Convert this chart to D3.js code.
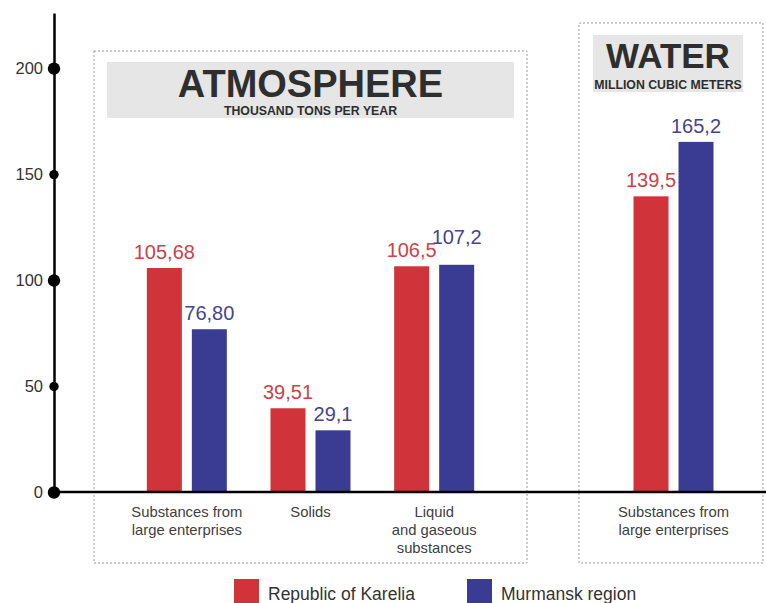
<!DOCTYPE html>
<html>
<head>
<meta charset="utf-8">
<script src="https://cdn.jsdelivr.net/npm/d3@7"></script>
<style>
  body { margin: 0; background: #fff; }
  svg { display: block; }
  text { font-family: "Liberation Sans", Arial, Helvetica, sans-serif; }
</style>
</head>
<body>
<svg id="chart" width="766" height="603"></svg>
<script>
// ---- data ----
const seriesNames = ["Republic of Karelia", "Murmansk region"];
const seriesKeys = ["karelia", "murmansk"];

const atmoCategories = [
  ["Substances from", "large enterprises"],
  ["Solids"],
  ["Liquid", "and gaseous", "substances"]
];
const atmoKarelia = [105.68, 39.51, 106.5];
const atmoMurmansk = [76.80, 29.1, 107.2];
const atmoKareliaLabels = ["105,68", "39,51", "106,5"];
const atmoMurmanskLabels = ["76,80", "29,1", "107,2"];

const waterCategories = [
  ["Substances from", "large enterprises"]
];
const waterKarelia = [139.5];
const waterMurmansk = [165.2];
const waterKareliaLabels = ["139,5"];
const waterMurmanskLabels = ["165,2"];

const yTicks = [0, 50, 100, 150, 200];
const yMajorTicks = [0, 100, 200];

// ---- styling ----
const colors = { karelia: "#d0333a", murmansk: "#3a3c94" };
const labelColors = { karelia: "#c8434b", murmansk: "#44458e" };
const textDark = "#333333";

const svg = d3.select("#chart");
const W = 766;

const y = d3.scaleLinear().domain([0, 226]).range([492, 13]);

// panels: frame, title plate and the horizontal span of the categories
const panels = [
  {
    title: "ATMOSPHERE", subtitle: "THOUSAND TONS PER YEAR",
    categories: atmoCategories,
    values: { karelia: atmoKarelia, murmansk: atmoMurmansk },
    labels: { karelia: atmoKareliaLabels, murmansk: atmoMurmanskLabels },
    frame: { x: 94, y: 51, w: 433, h: 512 },
    plate: { x: 107, y: 62, w: 407, h: 56 },
    titleSize: 38, titleBase: 97, subBase: 115,
    span: [125, 496]
  },
  {
    title: "WATER", subtitle: "MILLION CUBIC METERS",
    categories: waterCategories,
    values: { karelia: waterKarelia, murmansk: waterMurmansk },
    labels: { karelia: waterKareliaLabels, murmansk: waterMurmanskLabels },
    frame: { x: 579, y: 23, w: 184, h: 540 },
    plate: { x: 593, y: 35, w: 150, h: 57 },
    titleSize: 35, titleBase: 68, subBase: 89,
    span: [612, 735]
  }
];

// inner scale places the two series side by side inside a category
const inner = d3.scaleBand().domain(seriesKeys).range([-40, 40]).paddingInner(0.222);

panels.forEach(p => {
  const g = svg.append("g");

  // dashed frame
  g.append("rect")
    .attr("x", p.frame.x).attr("y", p.frame.y)
    .attr("width", p.frame.w).attr("height", p.frame.h)
    .attr("fill", "none").attr("stroke", "#9a9a9a")
    .attr("stroke-width", 1).attr("stroke-dasharray", "2,2");

  // title plate
  g.append("rect")
    .attr("x", p.plate.x).attr("y", p.plate.y)
    .attr("width", p.plate.w).attr("height", p.plate.h)
    .attr("fill", "#e6e6e6");
  const cx = p.plate.x + p.plate.w / 2;
  g.append("text")
    .attr("x", cx).attr("y", p.titleBase)
    .attr("text-anchor", "middle")
    .attr("font-size", p.titleSize).attr("font-weight", "bold")
    .attr("fill", "#2e2e2e")
    .text(p.title);
  g.append("text")
    .attr("x", cx).attr("y", p.subBase)
    .attr("text-anchor", "middle")
    .attr("font-size", 12.3).attr("font-weight", "bold")
    .attr("fill", "#2e2e2e")
    .text(p.subtitle);

  const x = d3.scaleBand()
    .domain(d3.range(p.categories.length))
    .range(p.span);

  p.categories.forEach((lines, i) => {
    const center = x(i) + x.bandwidth() / 2;

    // label baselines; lift the taller bar's label when the two would collide
    const vals = seriesKeys.map(k => p.values[k][i]);
    const base = vals.map(v => y(v) - 9);
    if (Math.abs(base[0] - base[1]) < 12) {
      const hi = vals[0] > vals[1] ? 0 : 1;
      base[hi] = Math.min(base[0], base[1]) - 12;
    }

    seriesKeys.forEach((k, s) => {
      const v = p.values[k][i];
      g.append("rect")
        .attr("x", center + inner(k))
        .attr("y", y(v))
        .attr("width", inner.bandwidth())
        .attr("height", y(0) - y(v))
        .attr("fill", colors[k]);
      g.append("text")
        .attr("x", center + inner(k) + inner.bandwidth() / 2)
        .attr("y", base[s])
        .attr("text-anchor", "middle")
        .attr("font-size", 20)
        .attr("fill", labelColors[k])
        .text(p.labels[k][i]);
    });

    // category label
    const t = g.append("text")
      .attr("text-anchor", "middle")
      .attr("font-size", 14.8)
      .attr("fill", "#404040");
    lines.forEach((ln, j) => {
      t.append("tspan").attr("x", center).attr("y", 517 + j * 18).text(ln);
    });
  });
});

// value axis with dot markers
const axis = d3.axisLeft(y).tickValues(yTicks).tickSize(0).tickPadding(11);
const ag = svg.append("g").attr("transform", "translate(54,0)").call(axis);
ag.select(".domain").attr("stroke", "#000").attr("stroke-width", 2.5);
ag.selectAll(".tick text")
  .attr("font-size", 16.5)
  .attr("fill", textDark)
  .style("font-family", "'Liberation Sans', Arial, sans-serif");
ag.selectAll(".tick").append("circle")
  .attr("r", d => yMajorTicks.includes(d) ? 6.2 : 4.7)
  .attr("fill", "#000");

// baseline
svg.append("line")
  .attr("x1", 54).attr("x2", W)
  .attr("y1", y(0)).attr("y2", y(0))
  .attr("stroke", "#000").attr("stroke-width", 2.5);

// legend
const legendX = [234, 467];
const lg = svg.append("g");
seriesKeys.forEach((k, i) => {
  lg.append("rect")
    .attr("x", legendX[i]).attr("y", 579)
    .attr("width", 25).attr("height", 25)
    .attr("fill", colors[k]);
  lg.append("text")
    .attr("x", legendX[i] + 34).attr("y", 600)
    .attr("font-size", 17.5)
    .attr("fill", textDark)
    .text(seriesNames[i]);
});
</script>
</body>
</html>
